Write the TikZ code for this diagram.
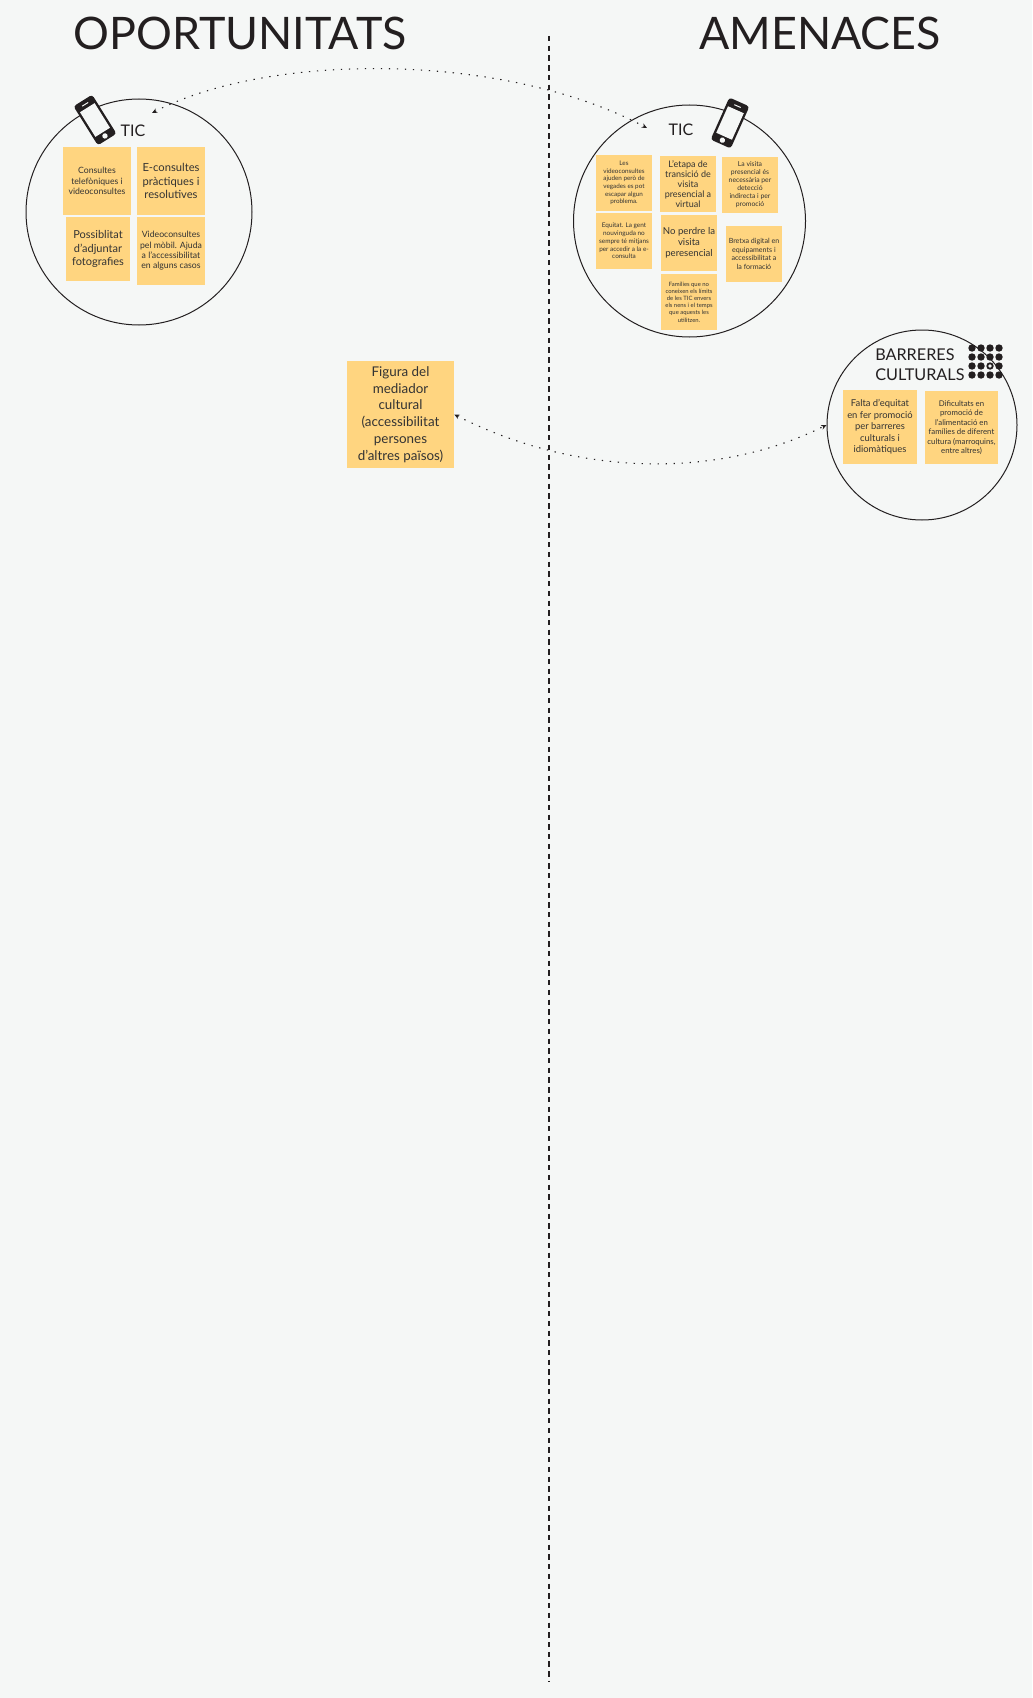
\documentclass[tikz,border=0pt]{standalone}
\usepackage{fontspec}
\setmainfont{Lato}
\usetikzlibrary{arrows.meta}
\definecolor{bgc}{HTML}{F5F7F6}
\definecolor{stickyc}{HTML}{FFD580}
\definecolor{inkc}{HTML}{333333}
\definecolor{darkc}{HTML}{231F20}
\newcommand{\fs}[2]{\fontsize{\the\dimexpr #1pt*3/4\relax}{\the\dimexpr #2pt*3/4\relax}\selectfont}
\tikzset{
  x=0.75pt,y=-0.75pt,
  sticky/.style={fill=stickyc,draw=none,inner sep=0pt,align=center,text=inkc},
  bubble/.style={circle,draw=darkc,line width=0.75pt,inner sep=0pt},
  heading/.style={text=darkc,inner sep=0pt,font=\fs{44.8}{48}},
  label/.style={text=darkc,inner sep=0pt},
  link/.style={draw=darkc,line width=0.8pt,dash pattern=on 1pt off 5pt,{Stealth[length=4pt,width=3.5pt]}-{Stealth[length=4pt,width=3.5pt]}},
  divider/.style={draw=darkc,line width=1.8pt,dash pattern=on 4pt off 3.3pt},
}
\newcommand{\phoneicon}[3]{%
  \begin{scope}[shift={(#1,#2)},rotate=#3]
    \fill[darkc,rounded corners=2.2pt] (-11,-23) rectangle (11,23);
    \fill[bgc] (-8.6,-14.5) rectangle (8.6,14.5);
    \fill[bgc] (-3.5,-19) rectangle (3.5,-18);
    \fill[bgc] (0,18.8) circle[radius=2.7];
  \end{scope}}
\begin{document}
\begin{tikzpicture}
\useasboundingbox[fill=bgc] (0,0) rectangle (1032,1698);

% divider
\coordinate (divtop) at (549,36);
\coordinate (divbot) at (549,1682);
\draw[divider] (divtop) -- (divbot);

% headings
\node[heading] (hop) at (240,33.5) {OPORTUNITATS};
\node[heading] (ham) at (820,33.5) {AMENACES};

% left circle
\node[bubble,minimum size=226*0.75pt] (ctl) at (139,212) {};
\phoneicon{95}{120}{32}
\node[label,font=\fs{16}{18}] (ticl) at (133,131) {TIC};
\node[sticky,minimum width=51pt,minimum height=51pt,font=\fs{8.7}{10.7}] (l1) at (97,181) {Consultes\\telefòniques i\\videoconsultes};
\node[sticky,minimum width=51pt,minimum height=51pt,font=\fs{11.2}{13.4}] (l2) at (171,181) {E-consultes\\pràctiques i\\resolutives};
\node[sticky,minimum width=48pt,minimum height=48pt,font=\fs{11}{13.4}] (l3) at (98,249) {Possiblitat\\d'adjuntar\\fotografies};
\node[sticky,minimum width=51pt,minimum height=51pt,font=\fs{8.7}{10.3}] (l4) at (171,251) {Videoconsultes\\pel mòbil. Ajuda\\a l'accessibilitat\\en alguns casos};

% right circle
\node[bubble,minimum size=232*0.75pt] (ctr) at (689.5,221) {};
\phoneicon{730}{123}{-24}
\node[label,font=\fs{16}{18}] (ticr) at (681,130) {TIC};
\node[sticky,minimum width=42pt,minimum height=42pt,font=\fs{6.3}{7.7}] (r1) at (624,183) {Les\\videoconsultes\\ajuden però de\\vegades es pot\\escapar algun\\problema.};
\node[sticky,minimum width=42pt,minimum height=42pt,font=\fs{9}{10}] (r2) at (688,184) {L'etapa de\\transició de\\visita\\presencial a\\virtual};
\node[sticky,minimum width=42pt,minimum height=42pt,font=\fs{6.8}{8}] (r3) at (750,185) {La visita\\presencial és\\necessària per\\detecció\\indirecta i per\\promoció};
\node[sticky,minimum width=42pt,minimum height=42pt,font=\fs{6.4}{7.7}] (r4) at (624,241) {Equitat. La gent\\nouvinguda no\\sempre té mitjans\\per accedir a la e-\\consulta};
\node[sticky,minimum width=42pt,minimum height=42pt,font=\fs{9.6}{11}] (r5) at (689,243) {No perdre la\\visita\\peresencial};
\node[sticky,minimum width=42pt,minimum height=42pt,font=\fs{7.1}{8.7}] (r6) at (754,254) {Bretxa digital en\\equipaments i\\accessibilitat a\\la formació};
\node[sticky,minimum width=42pt,minimum height=42pt,font=\fs{5.9}{7.2}] (r7) at (689,302) {Famílies que no\\coneixen els límits\\de les TIC envers\\els nens i el temps\\que aquests les\\utilitzen.};

% barriers circle
\node[bubble,minimum size=190*0.75pt] (cb) at (922,425) {};
\node[label,font=\fs{16.2}{20},align=left,anchor=west] (bt) at (875,364.5) {BARRERES\\CULTURALS};
\foreach \cx in {972,981,990,999}{\foreach \cy in {348,357,366,375}{
  \fill[darkc] (\cx,\cy) circle[radius=3.7];}}
\fill[bgc] (990,366) circle[radius=1.9];
\node[sticky,minimum width=55.5pt,minimum height=55.5pt,font=\fs{9.4}{11.4}] (b1) at (880,427) {Falta d'equitat\\en fer promoció\\per barreres\\culturals i\\idiomàtiques};
\node[sticky,minimum width=54.75pt,minimum height=54.75pt,font=\fs{7.8}{9.5}] (b2) at (961.5,427.5) {Dificultats en\\promoció de\\l'alimentació en\\famílies de diferent\\cultura (marroquins,\\entre altres)};

% mediator
\node[sticky,minimum width=80.25pt,minimum height=80.25pt,font=\fs{13.4}{16.7}] (fig) at (400.5,414.5) {Figura del\\mediador\\cultural\\(accessibilitat\\persones\\d'altres països)};

% links
\coordinate (ticlend) at (152,113);
\coordinate (ticrend) at (647,128);
\draw[link] (ticlend) .. controls (270,52) and (504,52) .. (ticrend);
\draw[link] (fig.east) .. controls (580,478) and (720,478) .. (cb.west);
\end{tikzpicture}
\end{document}
